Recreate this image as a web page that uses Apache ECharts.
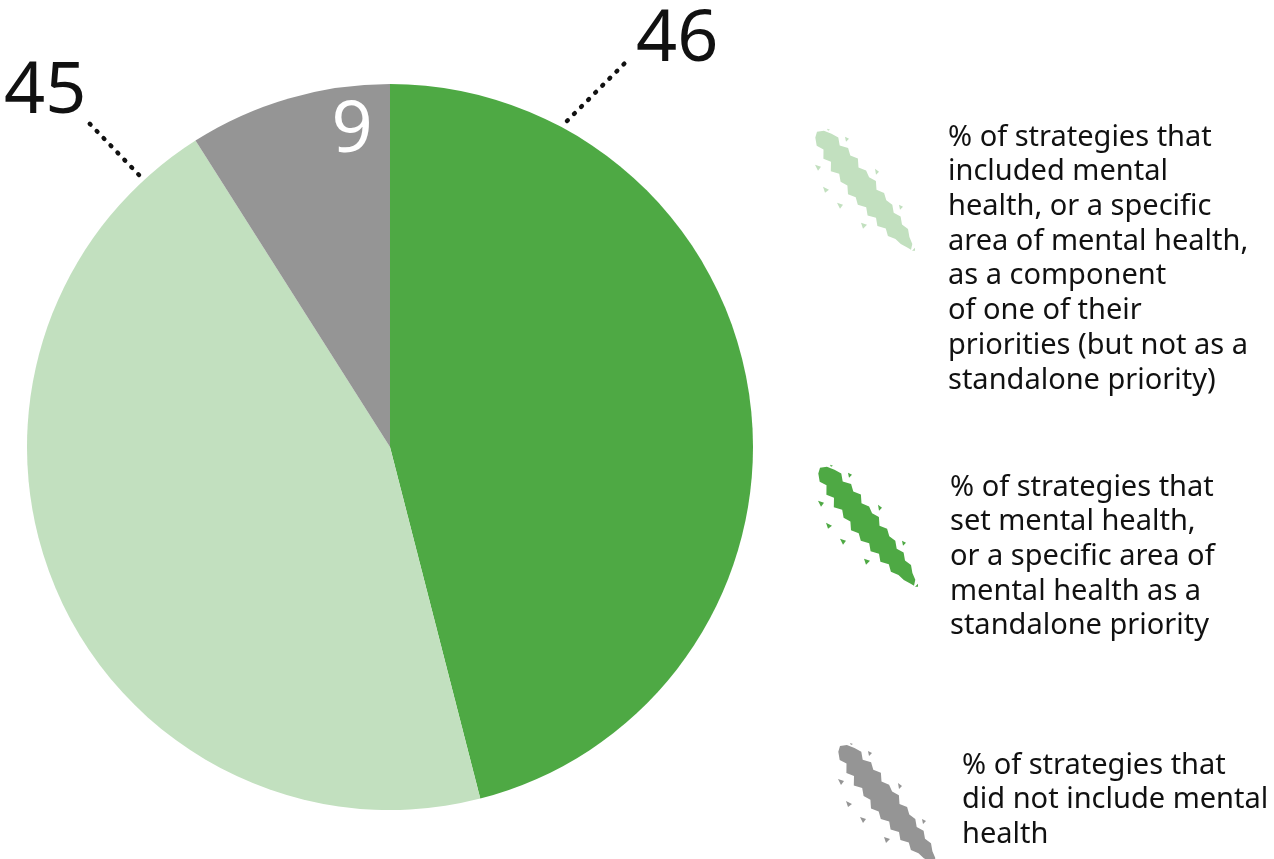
<!DOCTYPE html>
<html><head><meta charset="utf-8">
<script src="https://cdn.jsdelivr.net/npm/echarts@6/dist/echarts.min.js"></script>
<style>html,body{margin:0;padding:0;background:#fff}#c{width:1274px;height:859px}</style>
</head><body><div id="c"></div>
<script>
// ---- data ----
const categories = ['standalone', 'component', 'none'];
const values = [46, 45, 9];
const colors = ['#4ea944', '#c2e0bf', '#959595'];
const legendTexts = {
  component: '% of strategies that\nincluded mental\nhealth, or a specific\narea of mental health,\nas a component\nof one of their\npriorities (but not as a\nstandalone priority)',
  standalone: '% of strategies that\nset mental health,\nor a specific area of\nmental health as a\nstandalone priority',
  none: '% of strategies that\ndid not include mental\nhealth'
};

const FONT = 'Noto Sans';
const brush = 'path://M12,0 L15,1 L13,2 Z ' +
  'M2,3 L8.9,1.9 L16.5,5 L23.3,8.7 L24.7,16.8 L33.1,19.3 L35.3,26.7 L42.9,29.8 L43.5,38.6 L51.1,41.7 L54.1,48.5 L60.9,52.2 L61.5,61 L69.1,64.1 L71.3,71.5 L77.3,75.9 L78.7,84 L85.6,87.7 L87,95.8 L93,100.2 L94.4,108.3 L97.3,115.1 L96,121 ' +
  'L92.7,118.9 L85.8,115.2 L80.5,110.2 L72.9,107.1 L70.8,99.6 L62.4,97.1 L61,89 L52.6,86.6 L51.2,78.5 L42.8,76 L40.7,68.5 L33,65.4 L32.4,56.7 L25.6,53 L24.2,44.9 L15.8,42.4 L16,33 L8.4,29.9 L8.5,20.6 L1.7,16.9 L0.3,8.8 Z ' +
  'M0,36 L6,38 L3,42 Z M8,58 L14,61 L10,64 Z M22,74 L28,76 L25,80 Z M46,94 L52,96 L48,100 Z ' +
  'M30,8 L34,10 L31,13 Z M60,40 L64,43 L61,46 Z M84,76 L88,78 L85,81 Z M97,122 L100,119 L100,122 Z';

const chart = echarts.init(document.getElementById('c'), null, {renderer: 'canvas'});

function mkLegend(name, left, top, padLeft, spTop, spBottom) {
  return {
    data: [name],
    left: left, top: top, padding: 0,
    orient: 'vertical',
    selectedMode: false,
    icon: brush,
    itemWidth: 100, itemHeight: 122,
    formatter: n => (spTop ? '{st| }\n' : '') + legendTexts[n] + (spBottom ? '\n{sb| }' : ''),
    textStyle: {
      fontFamily: FONT, fontSize: 29, lineHeight: 34.7, color: '#111',
      padding: [0, 0, 0, padLeft],
      rich: {
        st: {lineHeight: spTop || 1, fontSize: 1},
        sb: {lineHeight: spBottom || 1, fontSize: 1}
      }
    }
  };
}

const labelPos = {
  0: {x: 636, y: 40, align: 'left', verticalAlign: 'middle', labelLinePoints: [[567, 121], [597, 91], [627, 61]]},
  1: {x: 4, y: 92, align: 'left', verticalAlign: 'middle', labelLinePoints: [[139, 175], [114, 149], [89, 123]]},
  2: {x: 352, y: 131, align: 'center', verticalAlign: 'middle'}
};

chart.setOption({
  animation: false,
  backgroundColor: '#fff',
  color: colors,
  legend: [
    mkLegend('component', 815, -18, 28, 138, 0),
    mkLegend('standalone', 818, 408, 27, 62, 0),
    mkLegend('none', 838, 743, 19, 0, 8)
  ],
  series: [{
    type: 'pie',
    center: [390, 447],
    radius: 363,
    startAngle: 90,
    clockwise: true,
    silent: true,
    avoidLabelOverlap: false,
    label: {
      show: true, position: 'outside',
      formatter: p => String(p.value),
      fontFamily: FONT, fontSize: 72, color: '#111',
      width: 120, overflow: 'none'
    },
    labelLine: {
      show: true,
      lineStyle: {color: '#111', width: 4.5, type: [1, 9], cap: 'round'}
    },
    labelLayout: p => labelPos[p.dataIndex],
    data: categories.map((c, i) => ({
      name: c, value: values[i],
      itemStyle: {color: colors[i]},
      label: i === 2 ? {color: '#fff'} : undefined,
      labelLine: i === 2 ? {show: false} : undefined
    }))
  }]
});
</script></body></html>
